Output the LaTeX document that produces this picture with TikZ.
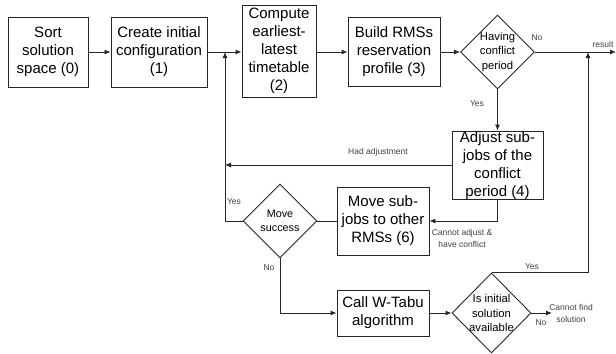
\documentclass[tikz,border=0pt]{standalone}
\usepackage{fontspec}
\setmainfont{Liberation Sans}
\usetikzlibrary{arrows.meta,shapes.geometric}
\begin{document}
\begin{tikzpicture}[x=1bp,y=-1bp,
  line width=0.9bp, draw=black!85,
  box/.style={draw=black!85, rectangle, inner sep=0},
  dia/.style={draw=black!85, diamond, inner sep=0},
  boxtext/.style={align=center, inner sep=0, font=\fontsize{15bp}{18bp}\selectfont},
  dtext/.style={align=center, inner sep=0, font=\fontsize{11.3bp}{14.5bp}\selectfont},
  lbl/.style={align=center, inner sep=0, text=black!75, font=\fontsize{8.5bp}{12bp}\selectfont},
  arr/.style={-{Latex[length=6bp,width=5bp]}}
]
\useasboundingbox (0,0) rectangle (616,353);

% process boxes
\node[box, minimum width=80bp, minimum height=70bp] (n0) at (48,52) {};
\node[boxtext] (t0) at (n0) {Sort\\solution\\space (0)};
\node[box, minimum width=96bp, minimum height=70bp] (n1) at (159,52) {};
\node[boxtext] (t1) at (n1) {Create initial\\configuration\\(1)};
\node[box, minimum width=74bp, minimum height=92bp] (n2) at (279,51) {};
\node[boxtext] (t2) at (n2) {Compute\\earliest-\\latest\\timetable\\(2)};
\node[box, minimum width=92bp, minimum height=69bp] (n3) at (394,52) {};
\node[boxtext] (t3) at (n3) {Build RMSs\\reservation\\profile (3)};
\node[box, minimum width=91bp, minimum height=68bp] (n4) at (497.5,165) {};
\node[boxtext] (t4) at (497.5,166) {Adjust sub-\\jobs of the\\conflict\\period (4)};
\node[box, minimum width=92bp, minimum height=68bp] (n6) at (383,221) {};
\node[boxtext] (t6) at (n6) {Move sub-\\jobs to other\\RMSs (6)};
\node[box, minimum width=92bp, minimum height=46bp] (n7) at (383,313) {};
\node[boxtext] (t7) at (n7) {Call W-Tabu\\algorithm};

% decisions
\node[dia, minimum width=74bp, minimum height=74bp] (d1) at (497.5,52) {};
\node[dtext] (e1) at (d1) {Having\\conflict\\period};
\node[dia, minimum width=74bp, minimum height=74bp] (d2) at (280,221) {};
\node[dtext, font=\fontsize{10.8bp}{13.5bp}\selectfont] (e2) at (d2) {Move\\success};
\node[dia, minimum width=79bp, minimum height=80bp] (d3) at (491.5,313) {};
\node[dtext] (e3) at (d3) {Is initial\\solution\\available};

% junction points and free ends
\coordinate (jl) at (225,52);
\coordinate (jr) at (588,52);
\coordinate (rend) at (616,52);
\coordinate (nf) at (552,313);

% main flow
\draw[arr] (n0.east) -- (n1.west);
\draw[arr] (n1.east) -- (n1.east -| n2.west);
\draw[arr] (n3.west -| n2.east) -- (n3.west);
\draw[arr] (n3.east) -- (d1.west);
\draw[arr] (d1.south) -- (n4.north);
\draw[arr] (d1.east) -- (rend);
\draw[arr] (d3.north) -- (d3.north -| jr) -- (jr);
\draw[arr] (n4.west) -- (n4.west -| jl);
\draw[arr] (d2.west) -- (d2.west -| jl) -- (jl);
\draw[arr] (n4.south) |- (n6.east);
\draw (n6.west) -- (d2.east);
\draw[arr] (d2.south) |- (n7.west);
\draw[arr] (n7.east) -- (d3.west);
\draw[arr] (d3.east) -- (nf);

% connector labels
\node[lbl] (l1) at (477,104) {Yes};
\node[lbl] (l2) at (537,38) {No};
\node[lbl] (l3) at (603,44) {result};
\node[lbl] (l4) at (378,152) {Had adjustment};
\node[lbl] (l5) at (234,202) {Yes};
\node[lbl] (l6) at (462,238) {Cannot adjust \&\\have conflict};
\node[lbl] (l7) at (269,268) {No};
\node[lbl] (l8) at (532,267) {Yes};
\node[lbl] (l9) at (541,323) {No};
\node[lbl] (l10) at (571,313) {Cannot find\\solution};
\end{tikzpicture}
\end{document}
